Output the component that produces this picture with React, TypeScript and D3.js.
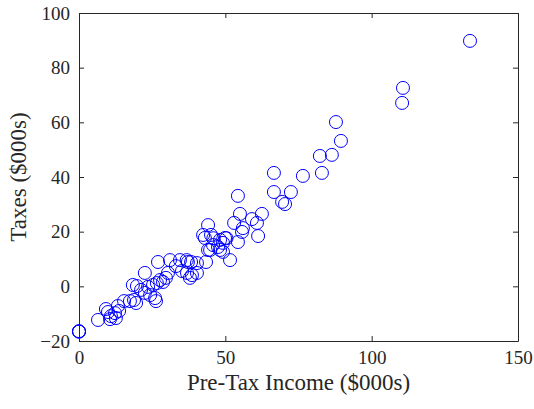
import * as d3 from 'd3';
import React, { useEffect, useRef } from 'react';

// pre-tax income ($000s) and taxes ($000s)
const income = [
  0, 0, 0, 6.5, 9.2, 9.9, 10.9, 12.6, 10.6, 12.3, 13.7, 13.3, 15.4, 17.4, 18.8, 19.5,
  18.4, 19.8, 22.5, 21.2, 22.5, 24.3, 26, 26.3, 23.6, 25.3, 26.6, 27.7, 28.7, 27,
  29.7, 30.4, 31.1, 33.1, 34.5, 35.2, 36.9, 37.2, 38.3, 38.6, 37.9, 40.3, 40.3, 43.4,
  36.8, 42.4, 44.1, 45.1, 43, 44.1, 45.8, 45.9, 44.8, 47.5, 48.2, 48.2, 49.2, 49.9,
  50.4, 49.2, 51.6, 53, 54.3, 55, 54.3, 56, 55.7, 59.1, 60.8, 61.2, 62.5, 66.6, 66.6,
  72.4, 69.4, 70.4, 76.5, 82.3, 86.4, 83, 87.8, 89.5, 110.4, 110.7, 133.6
];
const taxes = [
  -16.4, -16.5, -16.6, -12.3, -8.3, -9.4, -10.9, -11.6, -12, -9.8, -9, -7.2, -5.4, -5.4, -5, -6.1,
  0.5, 0.1, 4.9, -1.3, -2.4, -3.2, -4.3, -5.4, -0.2, 0.5, 1.2, 2.3, 1.6, 8.9,
  3.1, 4.9, 9.6, 7.4, 9.6, 5.6, 4.9, 8.9, 8.9, 4.1, 3.1, 4.9, 8.5, 8.9,
  9.6, 18.8, 22.4, 18.8, 17.7, 13.3, 15.1, 17.6, 13.3, 14.4, 17, 13.3, 15.9, 17.7,
  17.6, 12.6, 9.6, 23.2, 33.1, 26.5, 16.2, 21.3, 19.9, 24.6, 23.2, 18.4, 26.5, 41.5, 34.5,
  34.5, 30.9, 30.1, 40.4, 47.7, 48.1, 41.5, 60.1, 53.2, 67.1, 72.6, 89.8
];
const xTicks = [0, 50, 100, 150];
const yTicks = [-20, 0, 20, 40, 60, 80, 100];

const W = 534;
const H = 409;
const margin = { top: 13, right: 16, bottom: 68, left: 79 };
const ink = '#262626';

export default function App() {
  const ref = useRef<SVGSVGElement>(null);

  useEffect(() => {
    const svg = d3.select(ref.current).html('');
    const x = d3.scaleLinear().domain([0, 150]).range([margin.left, W - margin.right]);
    const y = d3.scaleLinear().domain([-20, 100]).range([H - margin.bottom, margin.top]);
    const font = '"Liberation Serif", "Times New Roman", serif';

    const pts = income.map((v, i) => ({ x: v, y: taxes[i] }));
    svg.append('g')
      .selectAll('circle')
      .data(pts)
      .enter().append('circle')
      .attr('cx', d => x(d.x))
      .attr('cy', d => y(d.y))
      .attr('r', 6.5)
      .attr('fill', 'none')
      .attr('stroke', '#0000ff')
      .attr('stroke-width', 1);

    const tick = 5;
    const bottom = svg.append('g')
      .attr('transform', `translate(0,${y(-20)})`)
      .call(d3.axisBottom(x).tickValues(xTicks).tickSizeInner(-tick).tickSizeOuter(0).tickPadding(10));
    const top = svg.append('g')
      .attr('transform', `translate(0,${y(100)})`)
      .call(d3.axisTop(x).tickValues(xTicks).tickSizeInner(-tick).tickSizeOuter(0).tickFormat(() => ''));
    const left = svg.append('g')
      .attr('transform', `translate(${x(0)},0)`)
      .call(d3.axisLeft(y).tickValues(yTicks).tickSizeInner(-tick).tickSizeOuter(0).tickPadding(9));
    const right = svg.append('g')
      .attr('transform', `translate(${x(150)},0)`)
      .call(d3.axisRight(y).tickValues(yTicks).tickSizeInner(-tick).tickSizeOuter(0).tickFormat(() => ''));

    [bottom, top, left, right].forEach(g => {
      g.selectAll('path, line').attr('stroke', ink);
      g.selectAll('text')
        .attr('fill', ink)
        .style('font-family', font)
        .style('font-size', '19px');
    });

    svg.append('text')
      .attr('x', (x(0) + x(150)) / 2)
      .attr('y', 390)
      .attr('text-anchor', 'middle')
      .attr('fill', ink)
      .style('font-family', font)
      .style('font-size', '23px')
      .text('Pre-Tax Income ($000s)');

    svg.append('text')
      .attr('transform', `translate(26,${(y(-20) + y(100)) / 2}) rotate(-90)`)
      .attr('text-anchor', 'middle')
      .attr('fill', ink)
      .style('font-family', font)
      .style('font-size', '23px')
      .text('Taxes ($000s)');
  }, []);

  return (
    <svg
      ref={ref}
      width={W}
      height={H}
      style={{ position: 'absolute', left: 0, top: 0, background: '#fff' }}
    />
  );
}
